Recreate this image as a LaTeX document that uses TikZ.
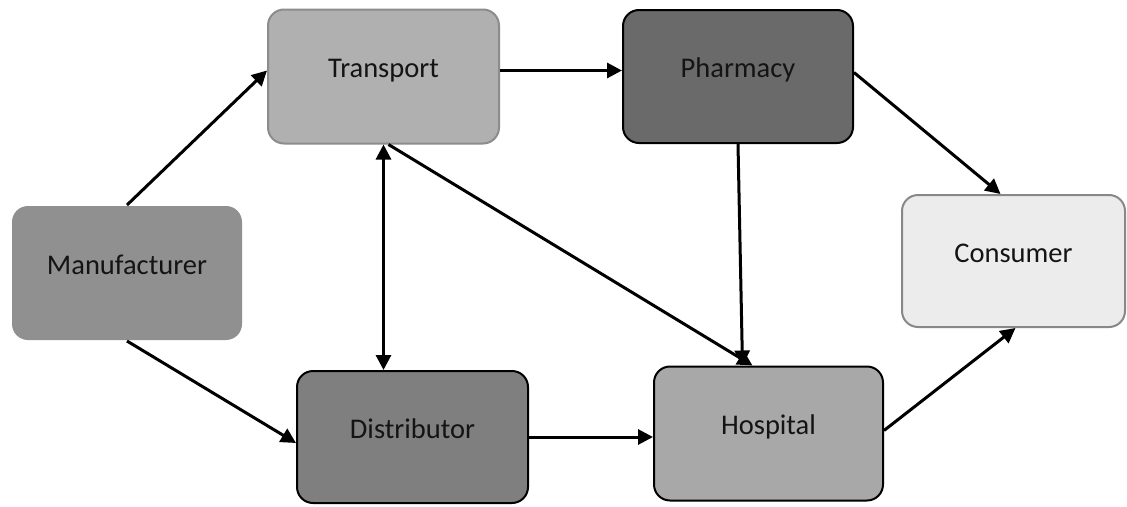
\documentclass[tikz,border=0pt]{standalone}
\usepackage{fontspec}
\setmainfont{Carlito}
\usetikzlibrary{arrows.meta,calc}
\definecolor{cMan}{RGB}{144,144,144}
\definecolor{cTr}{RGB}{176,176,176}
\definecolor{cTrB}{RGB}{140,140,140}
\definecolor{cPh}{RGB}{106,106,106}
\definecolor{cCo}{RGB}{236,236,236}
\definecolor{cCoB}{RGB}{136,136,136}
\definecolor{cDi}{RGB}{127,127,127}
\definecolor{cHo}{RGB}{168,168,168}
\definecolor{cTxt}{RGB}{20,20,20}
\begin{document}
\begin{tikzpicture}[x=1pt,y=-1pt,
  box/.style={rounded corners=16pt, line width=2pt, inner sep=0pt,
    text=cTxt, font=\fontsize{28.5}{31}\selectfont, text height=18pt, text depth=16pt},
  arr/.style={line width=3pt, -{Triangle[length=15pt,width=15pt]}},
  dblarr/.style={line width=3pt, {Triangle[length=15pt,width=15pt]}-{Triangle[length=15pt,width=15pt]}}]
\useasboundingbox[fill=white] (0,0) rectangle (1127,506);
\node[box, fill=cMan, minimum width=230pt, minimum height=134pt] (man) at (127,273) {Manufacturer};
\node[box, fill=cTr, draw=cTrB, minimum width=231pt, minimum height=134pt] (tr) at (383.5,76.5) {Transport};
\node[box, fill=cPh, draw=black, minimum width=230pt, minimum height=133pt] (ph) at (738,76.5) {Pharmacy};
\node[box, fill=cCo, draw=cCoB, minimum width=223pt, minimum height=132pt] (co) at (1013.5,261) {Consumer};
\node[box, fill=cDi, draw=black, minimum width=231pt, minimum height=132pt] (di) at (412.5,437) {Distributor};
\node[box, fill=cHo, draw=black, minimum width=229pt, minimum height=134pt] (ho) at (768.5,433.5) {Hospital};
\draw[arr] (man.north) -- ($(tr.west)+(0,-6)$);
\draw[arr] (man.south) -- ($(di.west)+(0,6)$);
\draw[arr] ($(tr.east)+(0,-6)$) -- ($(ph.west)+(0,-6)$);
\draw[dblarr] (tr.south) -- (tr.south |- di.north);
\draw[arr] ($(tr.south)+(5,0)$) -- ($(ho.north)+(-16,0)$);
\draw[arr] (ph.south) -- ($(ho.north)+(-26,0)$);
\draw[arr] ($(ph.east)+(0,-4)$) -- ($(co.north)+(-13,0)$);
\draw[arr] (di.east) -- (di.east -| ho.west);
\draw[arr] ($(ho.east)+(0,-3)$) -- ($(co.south)+(2,0)$);
\end{tikzpicture}
\end{document}
